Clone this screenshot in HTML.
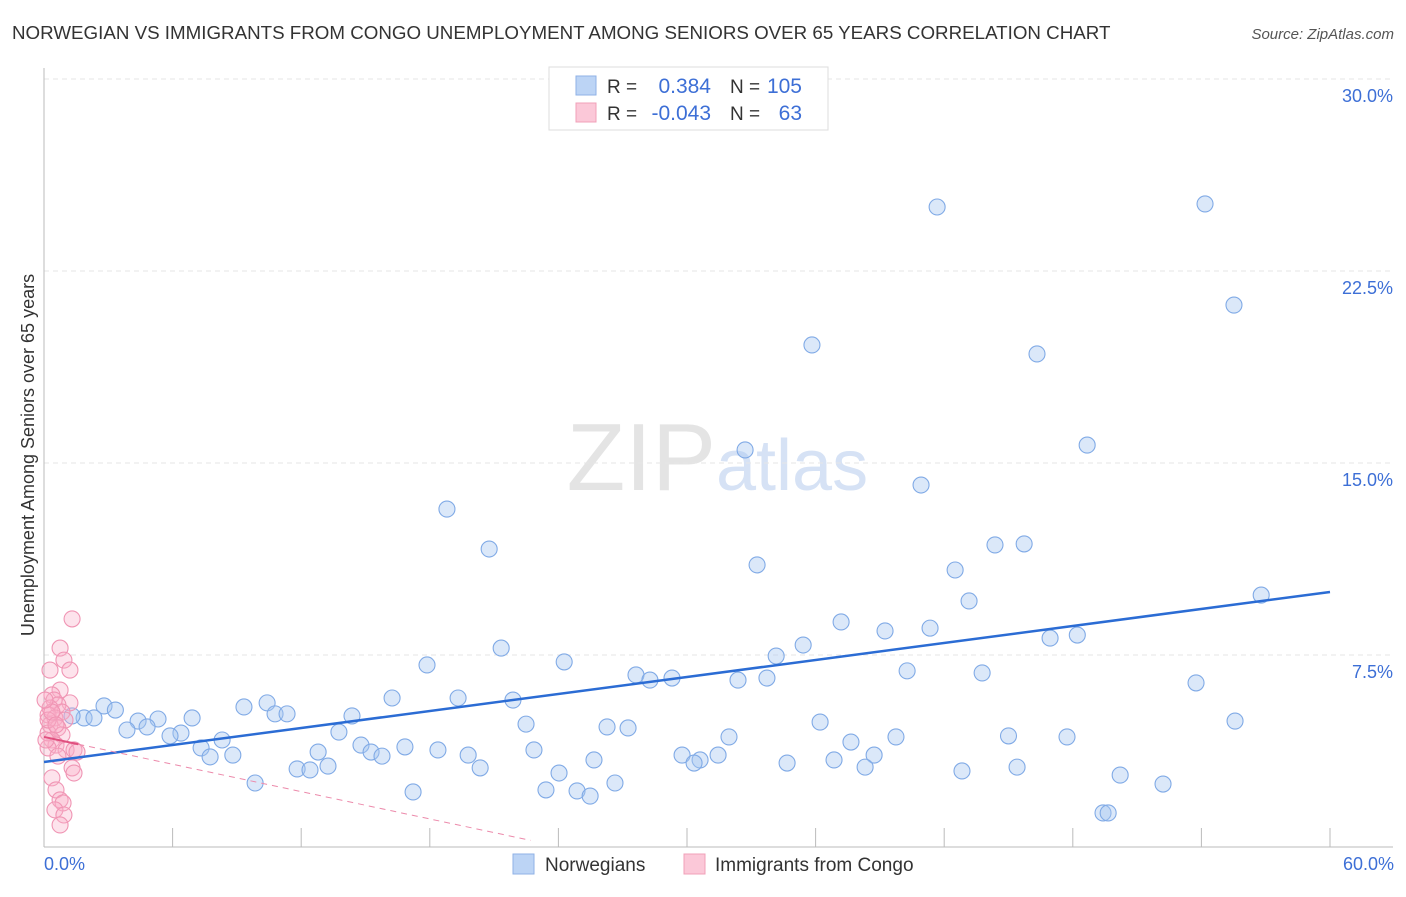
<!DOCTYPE html>
<html><head><meta charset="utf-8"><style>
body{margin:0;background:#fff;font-family:"Liberation Sans",sans-serif;}
svg text{font-family:"Liberation Sans",sans-serif;}
</style></head><body>
<svg id="chart" width="1406" height="892" viewBox="0 0 1406 892">
<text x="12" y="39" font-size="18.75" fill="#333">NORWEGIAN VS IMMIGRANTS FROM CONGO UNEMPLOYMENT AMONG SENIORS OVER 65 YEARS CORRELATION CHART</text>
<text x="1394" y="39" font-size="15" fill="#555" font-style="italic" text-anchor="end">Source: ZipAtlas.com</text>
<text x="716" y="490" font-size="96" fill="#e4e4e4" text-anchor="end" font-family="Liberation Serif">ZIP</text>
<text x="716" y="490" font-size="72" fill="#d6e2f5">atlas</text>
<g id="grid"></g>
<line x1="44" y1="68" x2="44" y2="847" stroke="#bbb"/>
<line x1="44" y1="847" x2="1393" y2="847" stroke="#bbb"/>
<g id="marks"></g>
<text transform="translate(34,455) rotate(-90)" font-size="18" fill="#333" text-anchor="middle">Unemployment Among Seniors over 65 years</text>
<text x="44" y="870" font-size="18" fill="#3d6fd6">0.0%</text>
<text x="1394" y="870" font-size="18" fill="#3d6fd6" text-anchor="end">60.0%</text>
<g>
<rect x="549" y="67" width="279" height="63" fill="#fff" stroke="#ddd"/>
<rect x="576" y="76" width="20" height="19" fill="#bcd4f5" stroke="#8fb2e6"/>
<rect x="576" y="103" width="20" height="19" fill="#fbc8d8" stroke="#f0a0b8"/>
<text x="607" y="93" font-size="19" fill="#333">R =</text>
<text x="711" y="93" font-size="21" fill="#3d6fd6" text-anchor="end">0.384</text>
<text x="730" y="93" font-size="19" fill="#333">N =</text>
<text x="802" y="93" font-size="21" fill="#3d6fd6" text-anchor="end">105</text>
<text x="607" y="120" font-size="19" fill="#333">R =</text>
<text x="711" y="120" font-size="21" fill="#3d6fd6" text-anchor="end">-0.043</text>
<text x="730" y="120" font-size="19" fill="#333">N =</text>
<text x="802" y="120" font-size="21" fill="#3d6fd6" text-anchor="end">63</text>
</g>
<g>
<rect x="513" y="854" width="21" height="20" fill="#bcd4f5" stroke="#8fb2e6"/>
<text x="545" y="871" font-size="19" fill="#333">Norwegians</text>
<text x="715" y="871" font-size="19" fill="#333">Immigrants from Congo</text>
<rect x="684" y="854" width="21" height="20" fill="#fbc8d8" stroke="#f0a0b8"/>
</g>
</svg>
<script>
const yTicks=[7.5,15,22.5,30];
const yTickLabels=["7.5%","15.0%","22.5%","30.0%"];
const xTicks=[6,12,18,24,30,36,42,48,54,60];
const blueX=[41.67,54.17,55.52,35.83,46.33,48.67,32.71,40.92,18.80,20.77,44.37,45.73,33.27,42.51,43.16,56.79,37.19,39.24,41.34,46.94,48.21,35.42,34.16,21.33,24.27,17.87,27.62,28.27,29.30,32.38,33.73,40.27,43.77,53.75,16.24,19.32,21.88,10.41,9.33,10.78,11.34,14.37,6.91,2.80,3.33,1.87,2.33,1.31,4.39,5.32,4.81,3.87,6.39,5.88,22.49,26.27,27.25,36.21,55.57,31.96,39.75,45.0,47.73,13.76,8.31,7.33,7.75,8.81,14.79,15.26,15.77,16.84,18.38,12.79,19.79,22.86,25.66,29.77,30.61,31.45,30.33,37.65,36.86,38.73,38.31,34.67,11.81,12.41,13.25,20.35,42.83,45.40,50.21,9.85,24.03,26.64,23.42,24.87,25.48,17.22,52.21,49.41,49.65];
const blueY=[25.0,25.12,21.17,19.61,19.26,15.70,15.51,14.14,13.20,11.64,11.80,11.84,11.02,10.82,9.61,9.84,8.79,8.44,8.55,8.16,8.28,7.89,7.46,7.77,7.23,7.11,6.72,6.52,6.60,6.52,6.60,6.88,6.80,6.41,5.82,5.82,5.74,5.63,5.47,5.20,5.20,5.12,5.04,5.51,5.35,5.04,5.04,5.12,4.92,5.00,4.69,4.57,4.45,4.34,4.80,4.69,4.65,4.88,4.92,4.30,4.30,4.34,4.30,4.49,4.18,3.87,3.52,3.59,3.98,3.71,3.55,3.91,3.79,3.71,3.59,3.79,3.40,3.59,3.40,3.59,3.28,4.10,3.40,3.59,3.12,3.28,3.05,3.01,3.16,3.09,2.97,3.12,2.81,2.50,2.89,2.50,2.23,2.19,1.99,2.15,2.46,1.33,1.33];
const pinkX=[1.31,0.75,0.93,1.21,0.28,0.75,0.37,0.47,1.21,0.65,0.28,0.84,0.19,0.51,0.98,0.28,0.65,0.19,0.84,0.37,0.56,0.19,1.03,1.40,1.54,0.65,1.31,1.40,0.37,0.56,0.75,0.89,0.51,0.93,0.75,0.19,0.37,0.09,0.56,0.05];
const pinkY=[8.91,7.77,7.30,6.91,6.91,6.13,5.94,5.74,5.63,5.55,5.43,5.27,5.16,5.04,4.96,4.77,4.65,4.45,4.38,4.18,3.98,3.87,3.79,3.79,3.71,3.55,3.09,2.89,2.70,2.23,1.84,1.72,1.45,1.25,0.86,4.96,5.27,4.18,4.77,5.74];
const blueTrend=[3.32,0.1107];   // intercept, slope
const pinkTrend=[4.30,-0.178];
const NS="http://www.w3.org/2000/svg";
const X=v=>44+v/60*1286;
const Y=v=>847-v/7.5*192;
function mk(tag,attrs,parent){const e=document.createElementNS(NS,tag);for(const k in attrs)e.setAttribute(k,attrs[k]);parent.appendChild(e);return e;}
const grid=document.getElementById('grid'),marks=document.getElementById('marks'),svg=document.getElementById('chart');
yTicks.forEach((t,i)=>{
 const l=mk('line',{x1:44,x2:1393,y1:Y(t),y2:Y(t),stroke:'#e6e6e6','stroke-dasharray':'5,4'},grid);
 
 
 const tx=mk('text',{x:1393,y:Y(t)+23,'font-size':18,fill:'#3d6fd6','text-anchor':'end'},svg);
 tx.textContent=yTickLabels[i];
 
 
});
xTicks.forEach(t=>{
 const l=mk('line',{x1:X(t),x2:X(t),y1:828,y2:847,stroke:'#bbb'},grid);
 
 
});
blueX.forEach((v,i)=>{
 const c=mk('circle',{cx:X(v),cy:Y(blueY[i]),r:8,fill:'rgba(165,198,240,0.4)',stroke:'#80aae6','stroke-width':1.1},marks);
 
 
});
pinkX.forEach((v,i)=>{
 const c=mk('circle',{cx:X(v),cy:Y(pinkY[i]),r:8,fill:'rgba(248,175,200,0.35)',stroke:'#f095b4','stroke-width':1.1},marks);
 
 
});
const bt=mk('line',{x1:X(0),y1:Y(blueTrend[0]),x2:X(60),y2:Y(blueTrend[0]+60*blueTrend[1]),stroke:'#2b6cd4','stroke-width':2.5},marks);


const ps=mk('line',{x1:X(0),y1:Y(pinkTrend[0]),x2:X(1.6),y2:Y(pinkTrend[0]+1.6*pinkTrend[1]),stroke:'#e0507f','stroke-width':2},marks);


const pd=mk('line',{x1:X(1.6),y1:Y(pinkTrend[0]+1.6*pinkTrend[1]),x2:X(22.7),y2:Y(pinkTrend[0]+22.7*pinkTrend[1]),stroke:'#ec8aab','stroke-width':1,'stroke-dasharray':'6,5'},marks);


</script>
</body></html>
